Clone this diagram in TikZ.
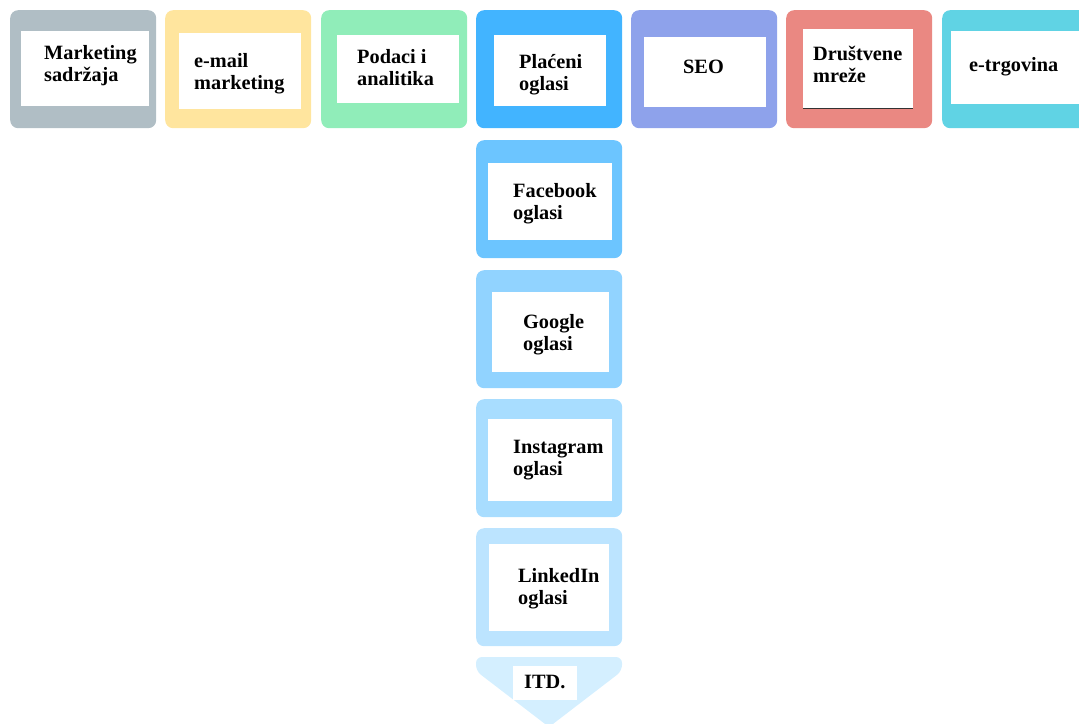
\documentclass[tikz,border=0pt]{standalone}
\usepackage{fontspec}
\setmainfont{Liberation Serif}
\definecolor{cmarket}{HTML}{B0BEC5}
\definecolor{cmail}{HTML}{FFE59E}
\definecolor{cdata}{HTML}{90EDB9}
\definecolor{cpaid}{HTML}{42B4FF}
\definecolor{cseo}{HTML}{8EA2EB}
\definecolor{csocial}{HTML}{EA8882}
\definecolor{cshop}{HTML}{60D3E4}
\definecolor{cfb}{HTML}{6CC5FF}
\definecolor{cgo}{HTML}{91D3FF}
\definecolor{cig}{HTML}{A8DDFF}
\definecolor{cli}{HTML}{BCE4FF}
\definecolor{citd}{HTML}{D4EFFF}
\tikzstyle{tile}=[rounded corners=8pt,inner sep=0pt,minimum width=146pt,minimum height=118pt,anchor=north west]
\tikzstyle{card}=[fill=white,inner sep=0pt,anchor=north west]
\tikzstyle{caption}=[font=\fontsize{20.3}{22}\selectfont\bfseries,align=left,anchor=base west,inner sep=0pt]

\begin{document}
\begin{tikzpicture}[x=1pt,y=-1pt]
  \useasboundingbox (0,0) rectangle (1079,723);

  % First the coloured tiles of the top row
  \foreach \x/\col/\name in {10/cmarket/ms, 165/cmail/em, 321/cdata/pa, 476/cpaid/po,
                             631/cseo/seo, 786/csocial/dm, 942/cshop/et}
    \node[tile,fill=\col] (\name) at (\x,10) {};

  % then the column under the paid ads
  \foreach \y/\col/\name in {140/cfb/fb, 270/cgo/go, 399/cig/ig, 528/cli/li}
    \node[tile,fill=\col] (\name) at (476,\y) {};

  \fill[citd] (549,727) [rounded corners=6pt] -- (476,671) -- (476,657) -- (622,657) -- (622,671) [sharp corners] -- cycle;

  % White cards inside the tiles
  \foreach \x/\y/\w/\h/\name in {21/31/128/75/msc, 179/33/122/76/emc, 337/35/122/68/pac,
                                 494/35/112/71/poc, 644/37/122/70/seoc, 803/29/110/79/dmc,
                                 951/31/134/73/etc, 488/163/124/77/fbc, 492/292/117/80/goc,
                                 488/419/124/82/igc, 489/544/120/87/lic, 513/666/64/34/itdc}
    \node[card,minimum width=\w pt,minimum height=\h pt] (\name) at (\x,\y) {};

  \draw[line width=1.5pt,black!80] (dmc.south west) -- (dmc.south east);

  % Texts (base = last line)
  \foreach \x/\y/\txt/\name in {44/81/{Marketing\\sadržaja}/msl, 194/89/{e-mail\\marketing}/eml,
                                357/85/{Podaci i\\analitika}/pal, 519/90/{Plaćeni\\oglasi}/pol,
                                683/73/{SEO}/seol, 813/82/{Društvene\\mreže}/dml,
                                969/71/{e-trgovina}/etl, 513/219/{Facebook\\oglasi}/fbl,
                                523/350/{Google\\oglasi}/gol, 513/475/{Instagram\\oglasi}/igl,
                                518/604/{LinkedIn\\oglasi}/lil, 524/688/{ITD.}/itdl}
    \node[caption] (\name) at (\x,\y) {\txt};
\end{tikzpicture}
\end{document}
